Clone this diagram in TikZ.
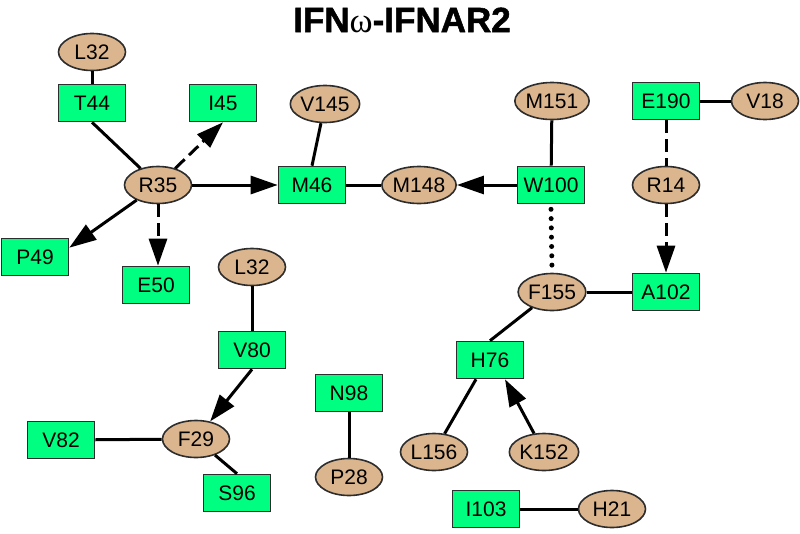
\documentclass[tikz,border=0pt]{standalone}
\usepackage{fontspec}
\setmainfont{Liberation Sans}
\newfontfamily\titlefont{Liberation Sans Bold}[FakeBold=1.5]
\newfontfamily\omegafont{Liberation Serif}
\usetikzlibrary{arrows.meta,shapes.geometric}
\definecolor{boxgreen}{RGB}{0,255,128}
\definecolor{ovaltan}{RGB}{218,181,142}
\definecolor{edgegray}{RGB}{45,45,45}
\tikzset{
  resbox/.style={draw=edgegray, line width=1.6pt, fill=boxgreen, rectangle, minimum width=67pt, minimum height=37pt, inner sep=0pt, font=\fontsize{21}{21}\selectfont},
  resoval/.style={draw=edgegray, line width=1.6pt, fill=ovaltan, ellipse, minimum width=67pt, minimum height=37pt, inner sep=0pt, font=\fontsize{21}{21}\selectfont},
  link/.style={line width=3pt, black},
  arr/.style={link, -{Triangle[length=27pt,width=18pt]}},
  dashlink/.style={link, dash pattern=on 13pt off 6pt},
  dotlink/.style={line width=5pt, line cap=round, dash pattern=on 0pt off 9.3pt}
}
\begin{document}
\begin{tikzpicture}[x=1pt,y=-1pt]
\useasboundingbox (0,0) rectangle (800,533);
\node[inner sep=0pt] (title) at (402,20) {\fontsize{35}{35}\titlefont IFN{\omegafont\fontsize{35}{35}\selectfont ω}-IFNAR2};
% nodes
\node[resoval] (L32a) at (92,52) {L32};
\node[resbox]  (T44)  at (92,103) {T44};
\node[resbox]  (I45)  at (223,103) {I45};
\node[resoval] (V145) at (325,104) {V145};
\node[resoval] (M151) at (552,101) {M151};
\node[resbox]  (E190) at (666,101) {E190};
\node[resoval] (V18)  at (765,101) {V18};
\node[resoval] (R35)  at (158,185) {R35};
\node[resbox]  (M46)  at (312,185) {M46};
\node[resoval] (M148) at (419,185) {M148};
\node[resbox]  (W100) at (551,185) {W100};
\node[resoval] (R14)  at (666,185) {R14};
\node[resbox]  (P49)  at (35,257) {P49};
\node[resbox]  (E50)  at (156,285) {E50};
\node[resoval] (L32b) at (252,267) {L32};
\node[resoval] (F155) at (552,292) {F155};
\node[resbox]  (A102) at (666,292) {A102};
\node[resbox]  (V80)  at (252,350) {V80};
\node[resbox]  (N98)  at (349,393) {N98};
\node[resbox]  (H76)  at (490,360) {H76};
\node[resbox]  (V82)  at (61,440) {V82};
\node[resoval] (F29)  at (196,439) {F29};
\node[resoval] (L156) at (434,452) {L156};
\node[resoval] (K152) at (544,452) {K152};
\node[resoval] (P28)  at (349,477) {P28};
\node[resbox]  (S96)  at (237,493) {S96};
\node[resbox]  (I103) at (486,509) {I103};
\node[resoval] (H21)  at (612,509) {H21};
% edges
\draw[link] (L32a) -- (T44);
\draw[link] (T44.south) -- (R35);
\draw[arr, dash pattern=on 13pt off 6pt] (R35) -- (I45.south);
\draw[arr] (R35) -- (M46);
\draw[arr] (R35) -- ([yshift=-10pt]P49.north east);
\draw[arr, dash pattern=on 13pt off 6pt] (R35.south) -- (R35.south |- E50.north);
\draw[link] (V145) -- (M46.north);
\draw[link] (M46) -- (M148);
\draw[arr] (W100) -- (M148);
\draw[link] (M151) -- (W100);
\draw[dotlink] ([yshift=-5pt]W100.south) -- ([yshift=3pt]F155.north);
\draw[link] (E190) -- (V18);
\draw[dashlink] (E190) -- (R14);
\draw[arr, dash pattern=on 13pt off 6pt] (R14) -- (A102);
\draw[link] (F155) -- (A102);
\draw[link] (F155) -- (H76.north);
\draw[link] (L156) -- ([xshift=-14pt]H76.south);
\draw[arr] (K152) -- ([xshift=15pt]H76.south);
\draw[link] (L32b) -- (V80);
\draw[arr] (V80.south) -- (F29);
\draw[link] (V82) -- (F29);
\draw[link] (F29) -- (S96.north);
\draw[link] (N98) -- (P28);
\draw[link] (I103) -- (H21);
\end{tikzpicture}
\end{document}
